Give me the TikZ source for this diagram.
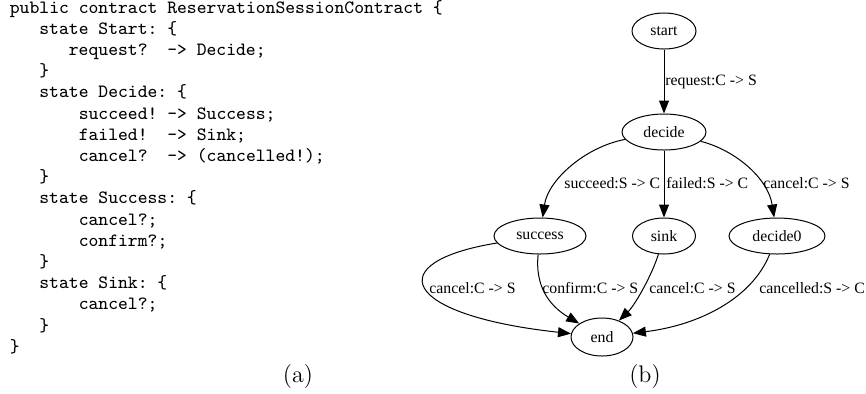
\documentclass[tikz,border=0pt]{standalone}
\usepackage{fontspec}
\newfontfamily\gvfont{Liberation Serif}
\usepackage{tikz}
\usetikzlibrary{shapes.geometric}
\usetikzlibrary{arrows.meta}

\tikzset{
  codeline/.style={anchor=base west, inner sep=0pt, font=\ttfamily\fontsize{9.37}{11}\selectfont\frenchspacing},
  gvnode/.style={ellipse, draw, line width=0.5pt, inner sep=0pt, minimum height=18pt, font=\gvfont\fontsize{7.9}{9}\selectfont},
  gvlabel/.style={anchor=base west, inner sep=0pt, font=\gvfont\fontsize{7.9}{9}\selectfont\frenchspacing},
  trans/.style={-{Triangle[length=6.5pt,width=5pt]}, line width=0.5pt},
  subcap/.style={anchor=base, inner sep=0pt, font=\fontsize{12}{14}\selectfont}
}

\begin{document}
\begin{tikzpicture}[x=0.5pt, y=-0.5pt]
  \useasboundingbox (0,0) rectangle (866,393);

  % (a) the contract
  \node[codeline] (l1) at (9.5,13) {public contract ReservationSessionContract \{};
  \node[codeline] (l2) at (39,34.2) {state Start: \{};
  \node[codeline] (l3) at (68.5,55.4) {request?\ \ -> Decide;};
  \node[codeline] (l4) at (39,76.6) {\}};
  \node[codeline] (l5) at (39,97.8) {state Decide: \{};
  \node[codeline] (l6) at (78.4,119) {succeed! -> Success;};
  \node[codeline] (l7) at (78.4,140.2) {failed!\ \ -> Sink;};
  \node[codeline] (l8) at (78.4,161.4) {cancel?\ \ -> (cancelled!);};
  \node[codeline] (l9) at (39,182.6) {\}};
  \node[codeline] (l10) at (39,203.8) {state Success: \{};
  \node[codeline] (l11) at (78.4,225) {cancel?;};
  \node[codeline] (l12) at (78.4,246.2) {confirm?;};
  \node[codeline] (l13) at (39,267.4) {\}};
  \node[codeline] (l14) at (39,288.6) {state Sink: \{};
  \node[codeline] (l15) at (78.4,309.8) {cancel?;};
  \node[codeline] (l16) at (39,331) {\}};
  \node[codeline] (l17) at (9.5,352.2) {\}};
  \node[subcap] (capa) at (298,382) {(a)};

  % (b) the automaton
  \node[gvnode, minimum width=32pt] (start) at (664,31) {start};
  \node[gvnode, minimum width=42pt] (decide) at (664,132) {decide};
  \node[gvnode, minimum width=46pt] (success) at (540,236) {success};
  \node[gvnode, minimum width=31.5pt] (sink) at (664,236) {sink};
  \node[gvnode, minimum width=48pt] (decide0) at (777,236) {decide0};
  \node[gvnode, minimum width=31pt, minimum height=19pt] (end) at (602,337) {end};

  \draw[trans] (start) -- (decide);
  \draw[trans] (decide) .. controls (585,147) and (548,180) .. (success);
  \draw[trans] (decide) -- (sink);
  \draw[trans] (decide) .. controls (735,150) and (768,178) .. (decide0);
  \draw[trans] (success) .. controls (380,262) and (400,315) .. (end);
  \draw[trans] (success) .. controls (535,285) and (548,305) .. (end);
  \draw[trans] (sink) .. controls (652,275) and (635,305) .. (end);
  \draw[trans] (decide0) .. controls (752,298) and (700,325) .. (end);

  \node[gvlabel] (lreq) at (665,85) {request:C -> S};
  \node[gvlabel] (lsuc) at (564,188) {succeed:S -> C};
  \node[gvlabel] (lfail) at (666,188) {failed:S -> C};
  \node[gvlabel] (lcan) at (763,188) {cancel:C -> S};
  \node[gvlabel] (lcan1) at (429,293) {cancel:C -> S};
  \node[gvlabel] (lconf) at (542,293) {confirm:C -> S};
  \node[gvlabel] (lcan2) at (649,293) {cancel:C -> S};
  \node[gvlabel] (lcanc) at (759,293) {cancelled:S -> C};
  \node[subcap] (capb) at (645,382) {(b)};
\end{tikzpicture}
\end{document}
